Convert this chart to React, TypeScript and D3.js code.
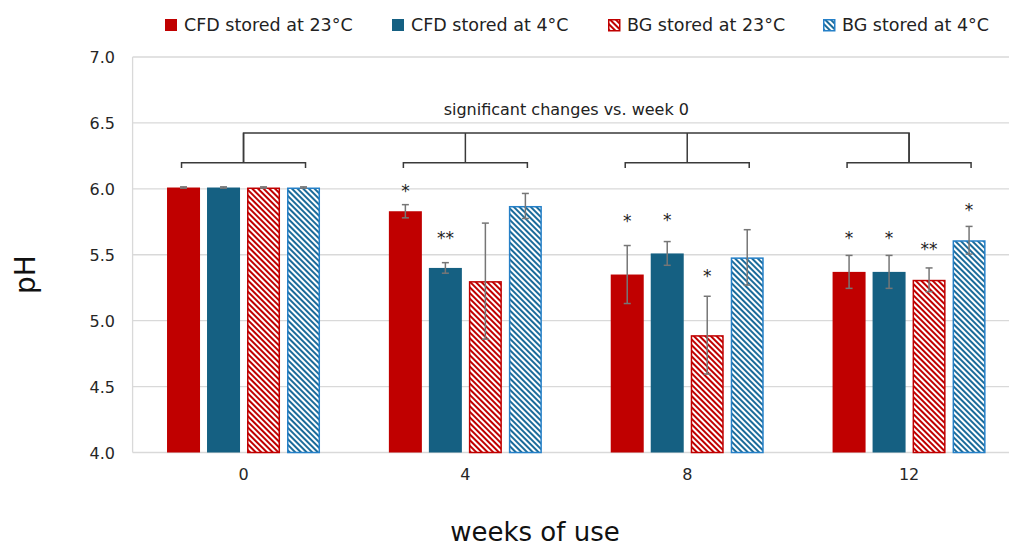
import React from 'react';
import * as d3 from 'd3';

// weeks on the x axis
const weeks = ['0', '4', '8', '12'];
const yTicks = [4.0, 4.5, 5.0, 5.5, 6.0, 6.5, 7.0];

const seriesNames = ['CFD stored at 23°C', 'CFD stored at 4°C', 'BG stored at 23°C', 'BG stored at 4°C'];

// mean pH per week
const cfd23 = [6.01, 5.83, 5.35, 5.37];
const cfd4 = [6.01, 5.40, 5.51, 5.37];
const bg23 = [6.01, 5.30, 4.89, 5.31];
const bg4 = [6.01, 5.87, 5.48, 5.61];

// standard deviations
const cfd23Err = [0.005, 0.05, 0.22, 0.125];
const cfd4Err = [0.005, 0.04, 0.09, 0.125];
const bg23Err = [0.005, 0.44, 0.295, 0.09];
const bg4Err = [0.005, 0.095, 0.21, 0.105];

// significance marks and the pH level they sit at
const cfd23Sig = ['', '*', '*', '*'];
const cfd4Sig = ['', '**', '*', '*'];
const bg23Sig = ['', '', '*', '**'];
const bg4Sig = ['', '', '', '*'];
const cfd23SigAt = [0, 6.02, 5.79, 5.66];
const cfd4SigAt = [0, 5.66, 5.8, 5.66];
const bg23SigAt = [0, 0, 5.37, 5.58];
const bg4SigAt = [0, 0, 0, 5.87];

const bracketTop = 6.423;
const bracketGroup = 6.198;
const bracketTick = 6.158;
const noteLevel = 6.56;
const noteText = 'significant changes vs. week 0';

const W = 1009;
const H = 546;
const FONT = "'DejaVu Sans', sans-serif";

const RED = '#C00000';
const BLUE = '#156082';
const BLUE_LINE = '#2580c8';

const series = [
  { name: seriesNames[0], values: cfd23, err: cfd23Err, sig: cfd23Sig, sigAt: cfd23SigAt, color: RED, hatch: false },
  { name: seriesNames[1], values: cfd4, err: cfd4Err, sig: cfd4Sig, sigAt: cfd4SigAt, color: BLUE, hatch: false },
  { name: seriesNames[2], values: bg23, err: bg23Err, sig: bg23Sig, sigAt: bg23SigAt, color: RED, hatch: true },
  { name: seriesNames[3], values: bg4, err: bg4Err, sig: bg4Sig, sigAt: bg4SigAt, color: BLUE_LINE, hatch: true },
];

export default function App() {
  const left = 132.6;
  const right = 1020;
  const x = d3.scaleBand<string>().domain(weeks).range([left, right]);
  const groupW = 153;
  const xs = d3.scaleBand<number>().domain(series.map((_, i) => i)).range([0, groupW]).paddingInner(0.175);
  const y = d3.scaleLinear().domain([4, 7]).range([452.5, 57]);

  const gx = (w: string) => (x(w) as number) + x.bandwidth() / 2;
  const bx = (w: string, i: number) => gx(w) - groupW / 2 + (xs(i) as number);
  const bw = xs.bandwidth();

  const legendW = [176, 165, 164, 152];
  let lx = 165;
  const legendX = legendW.map((w) => {
    const p = lx;
    lx += 19 + w + 32;
    return p;
  });

  return (
    <svg width={W} height={H} style={{ position: 'absolute', left: 0, top: 0, background: '#fff' }} fontFamily={FONT}>
      <defs>
        <pattern id="hatchRed" width="4" height="4" patternUnits="userSpaceOnUse" patternTransform="rotate(-45)">
          <rect width="4" height="4" fill="#fff" />
          <rect width="2" height="4" fill={RED} />
        </pattern>
        <pattern id="hatchBlue" width="4" height="4" patternUnits="userSpaceOnUse" patternTransform="rotate(-45)">
          <rect width="4" height="4" fill="#fff" />
          <rect width="2" height="4" fill="#1b6b9a" />
        </pattern>
      </defs>

      {/* grid */}
      {yTicks.map((t) => (
        <g key={t}>
          <line x1={left} x2={W} y1={y(t)} y2={y(t)} stroke="#d9d9d9" strokeWidth={1.3} />
          <text x={115} y={y(t) + 6} textAnchor="end" fontSize={16} fill="#262626">
            {t.toFixed(1)}
          </text>
        </g>
      ))}
      <line x1={left} x2={left} y1={y(7)} y2={y(4)} stroke="#d9d9d9" strokeWidth={1.3} />

      {/* bars */}
      {series.map((s, i) =>
        weeks.map((w, j) => {
          const x0 = bx(w, i);
          const top = y(s.values[j]);
          const h = y(4) - top;
          return s.hatch ? (
            <rect key={`${i}-${j}`} x={x0 + 0.75} y={top + 0.75} width={bw - 1.5} height={h - 0.75}
              fill={`url(#${i === 2 ? 'hatchRed' : 'hatchBlue'})`} stroke={s.color} strokeWidth={1.5} />
          ) : (
            <rect key={`${i}-${j}`} x={x0} y={top} width={bw} height={h} fill={s.color} />
          );
        })
      )}

      {/* error bars */}
      {series.map((s, i) =>
        weeks.map((w, j) => {
          const cx = bx(w, i) + bw / 2;
          const hi = y(s.values[j] + s.err[j]);
          const lo = y(s.values[j] - s.err[j]);
          return (
            <g key={`e${i}-${j}`} stroke="#767676" strokeWidth={1.5}>
              <line x1={cx} x2={cx} y1={hi} y2={lo} />
              <line x1={cx - 3.5} x2={cx + 3.5} y1={hi} y2={hi} />
              <line x1={cx - 3.5} x2={cx + 3.5} y1={lo} y2={lo} />
            </g>
          );
        })
      )}

      {/* significance marks */}
      {series.map((s, i) =>
        weeks.map((w, j) =>
          s.sig[j] ? (
            <text key={`s${i}-${j}`} x={bx(w, i) + bw / 2} y={y(s.sigAt[j]) + 10.5} textAnchor="middle" fontSize={17} fill="#222">
              {s.sig[j]}
            </text>
          ) : null
        )
      )}

      {/* brackets */}
      <g stroke="#3a3a3a" strokeWidth={1.5} fill="none">
        <path d={`M${gx(weeks[0])},${y(bracketGroup)}V${y(bracketTop)}H${gx(weeks[3])}V${y(bracketGroup)}`} />
        {weeks.map((w) => (
          <g key={w}>
            <path d={`M${gx(w) - 62},${y(bracketTick)}V${y(bracketGroup)}H${gx(w) + 62}V${y(bracketTick)}`} />
            <line x1={gx(w)} x2={gx(w)} y1={y(bracketTop)} y2={y(bracketGroup)} />
          </g>
        ))}
      </g>
      <text x={(gx(weeks[0]) + gx(weeks[3])) / 2 - 10} y={y(noteLevel)} textAnchor="middle" fontSize={16} fill="#222">
        {noteText}
      </text>

      {/* x tick labels */}
      {weeks.map((w) => (
        <text key={w} x={gx(w)} y={480} textAnchor="middle" fontSize={16} fill="#262626">
          {w}
        </text>
      ))}

      {/* axis titles */}
      <text x={535} y={540.5} textAnchor="middle" fontSize={26} fill="#111">
        weeks of use
      </text>
      <text transform="translate(34.5,274.5) rotate(-90)" textAnchor="middle" fontSize={28} fill="#111">
        pH
      </text>

      {/* legend */}
      {series.map((s, i) => (
        <g key={s.name} transform={`translate(${legendX[i]},19)`}>
          {s.hatch ? (
            <rect x={0.75} y={0.75} width={11} height={11} fill={`url(#${i === 2 ? 'hatchRed' : 'hatchBlue'})`} stroke={s.color} strokeWidth={1.5} />
          ) : (
            <rect width={12} height={12} fill={s.color} />
          )}
          <text x={19} y={12} fontSize={17.5} fill="#222">
            {s.name}
          </text>
        </g>
      ))}
    </svg>
  );
}
